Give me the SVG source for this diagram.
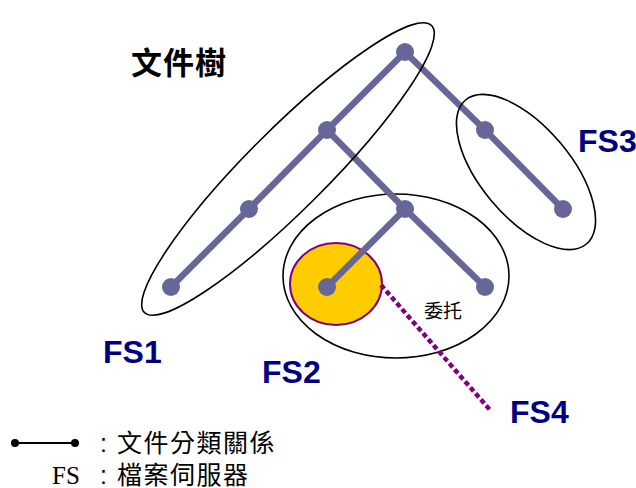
<svg xmlns="http://www.w3.org/2000/svg" width="636" height="488" viewBox="0 0 636 488">
<style>
.edge{stroke:#666699;stroke-width:6.5;stroke-linecap:round;fill:none}
.node{fill:#666699}
.fsring{fill:none;stroke:#000;stroke-width:1.6}
.fs{font-family:"Liberation Sans",Arial,sans-serif;font-weight:bold;font-size:32px;fill:#000080}
.cjk{font-family:"Liberation Sans","Noto Sans CJK TC",sans-serif;fill:#000}
</style>
<rect width="636" height="488" fill="#fff"/>
<g id="fs2-region">
<ellipse cx="396" cy="276" rx="113" ry="82" class="fsring"/>
</g>
<g id="fs4-region">
<ellipse cx="336" cy="284" rx="46" ry="41" fill="#FFCC00" stroke="#800080" stroke-width="2"/>
</g>
<g id="connectors">
<line class="edge" x1="405" y1="52" x2="327" y2="130"/>
<line class="edge" x1="327" y1="130" x2="249" y2="209"/>
<line class="edge" x1="249" y1="209" x2="171" y2="287"/>
<line class="edge" x1="327" y1="130" x2="405" y2="209"/>
<line class="edge" x1="405" y1="209" x2="327" y2="287"/>
<line class="edge" x1="405" y1="209" x2="485" y2="287"/>
<line class="edge" x1="405" y1="52" x2="485" y2="130"/>
<line class="edge" x1="485" y1="130" x2="563" y2="209"/>
<line x1="381" y1="285" x2="490" y2="410" stroke="#800080" stroke-width="4.5" stroke-dasharray="5 3"/>
</g>
<g id="n-root"><circle class="node" cx="405" cy="52" r="9"/></g>
<g id="n-a"><circle class="node" cx="327" cy="130" r="9"/></g>
<g id="n-b"><circle class="node" cx="249" cy="209" r="9"/></g>
<g id="n-c"><circle class="node" cx="171" cy="287" r="9"/></g>
<g id="n-d"><circle class="node" cx="405" cy="209" r="9"/></g>
<g id="n-e"><circle class="node" cx="327" cy="287" r="9"/></g>
<g id="n-f"><circle class="node" cx="485" cy="287" r="9"/></g>
<g id="n-g"><circle class="node" cx="485" cy="130" r="9"/></g>
<g id="n-h"><circle class="node" cx="563" cy="209" r="9"/></g>
<g id="fs1-region">
<ellipse cx="288" cy="169" rx="203" ry="40" transform="rotate(-45 288 169)" class="fsring"/>
</g>
<g id="fs3-region">
<ellipse cx="526" cy="172" rx="94" ry="45" transform="rotate(50 526 172)" class="fsring"/>
</g>
<g id="labels">
<text x="131" y="74" class="cjk" font-size="31" font-weight="bold" letter-spacing="1">文件樹</text>
<text x="443" y="318" class="cjk" font-size="19" text-anchor="middle">委托</text>
<text x="103" y="363" class="fs">FS1</text>
<text x="262" y="383" class="fs">FS2</text>
<text x="578" y="152" class="fs">FS3</text>
<text x="510" y="423" class="fs">FS4</text>
</g>
<g id="legend">
<line x1="15" y1="443" x2="75" y2="443" stroke="#000" stroke-width="2"/>
<circle cx="15" cy="443" r="4"/>
<circle cx="75" cy="443" r="4"/>
<text x="100" y="452" class="cjk" font-size="25" letter-spacing="1.5">: 文件分類關係</text>
<text x="52" y="484" font-family="Liberation Serif,'Times New Roman',serif" font-size="25">FS</text>
<text x="100" y="484" class="cjk" font-size="25" letter-spacing="1.5">: 檔案伺服器</text>
</g>
</svg>
